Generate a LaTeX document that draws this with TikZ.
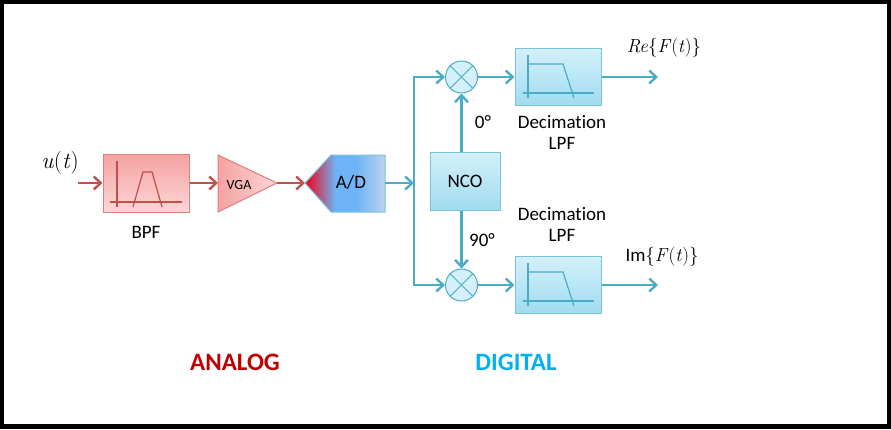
\documentclass[tikz,border=0pt]{standalone}
\usepackage{fontspec}
\setmainfont{Carlito}[Ligatures=NoCommon]
\newfontfamily\lmfont{Latin Modern Roman}
\usetikzlibrary{arrows.meta}
\definecolor{arrowred}{HTML}{C0504D}
\definecolor{arrowblue}{HTML}{4BACC6}
\definecolor{analogred}{HTML}{C00000}
\definecolor{digitalblue}{HTML}{00B0F0}
\definecolor{pinktop}{HTML}{F6A2A2}
\definecolor{pinkbot}{HTML}{FDD6D6}
\definecolor{pinkedge}{HTML}{D9807E}
\definecolor{cyantop}{HTML}{D4F0FA}
\definecolor{cyanbot}{HTML}{A0DCF0}
\definecolor{boxedge}{HTML}{7CC3D8}
\definecolor{adred}{HTML}{E8102A}
\definecolor{adblue}{HTML}{6CB4F6}
\definecolor{adpale}{HTML}{BCD3EC}
\pgfdeclarehorizontalshading{adshade}{100bp}{color(0bp)=(adred); color(27bp)=(adred); color(44bp)=(adblue); color(57bp)=(adblue); color(75bp)=(adpale); color(100bp)=(adpale)}
\begin{document}
\begin{tikzpicture}[x=1pt,y=-1pt,
	redarrow/.style={draw=arrowred, line width=2.4pt, -{Straight Barb[length=7pt,width=13pt]}},
	bluearrow/.style={draw=arrowblue, line width=2.4pt, -{Straight Barb[length=7pt,width=13pt]}},
	redbox/.style={draw=pinkedge, line width=1pt, top color=pinktop, bottom color=pinkbot, minimum width=86pt, minimum height=58pt},
	bluebox/.style={draw=boxedge, line width=1pt, top color=cyantop, bottom color=cyanbot, minimum width=86pt, minimum height=57pt},
	mixer/.style={circle, draw=arrowblue, line width=1pt, fill=cyantop, minimum size=32pt, inner sep=0pt},
	lbl/.style={font=\fontsize{19}{21}\selectfont}]
	\useasboundingbox (0,0) rectangle (891,429);
	\draw[line width=4.5pt] (2,2) rectangle (889,426.5);
	% analog part
	\node[font=\fontsize{23}{25}\selectfont] (u) at (60,163) {\lmfont\textit{u}(\textit{t})};
	\coordinate (in) at (78,183);
	\node[redbox] (bpf) at (146,183) {};
	\draw[arrowred, line width=1.2pt] ([shift={(-29,-22)}]bpf.center) -- ([shift={(-29,24)}]bpf.center);
	\draw[arrowred, line width=1.2pt] ([shift={(-36,19)}]bpf.center) -- ([shift={(36,19)}]bpf.center);
	\draw[arrowred, line width=1.2pt] ([shift={(-13,24)}]bpf.center) -- ([shift={(-3,-11)}]bpf.center) -- ([shift={(6,-11)}]bpf.center) -- ([shift={(16,24)}]bpf.center);
	\node[lbl] (bpflabel) at (146,232) {BPF};
	\coordinate (vgain) at (218,183);
	\coordinate (vgaout) at (277,183);
	\draw[draw=pinkedge, line width=1pt, left color=pinktop, right color=pinkbot] (218,155) -- (vgaout) -- (218,212) -- cycle;
	\node[font=\fontsize{14}{16}\selectfont] (vga) at (239,185) {VGA};
	\coordinate (adcin) at (305,183);
	\coordinate (adcout) at (385,183);
	\draw[draw=boxedge, line width=1pt, shading=adshade] (adcin) -- (331,155) -- (385,155) -- (385,212) -- (331,212) -- cycle;
	\node[lbl] (adc) at (351,182) {A/D};
	\draw[redarrow] (in) -- (bpf);
	\draw[redarrow] (bpf) -- (vgain);
	\draw[redarrow] (vgaout) -- (adcin);
	% digital part
	\coordinate (split) at (414,183);
	\node[mixer] (mixT) at (461.5,77) {};
	\node[mixer] (mixB) at (461.5,285) {};
	\foreach \m in {mixT,mixB} {
		\draw[arrowblue, line width=1pt] (\m.45) -- (\m.225);
		\draw[arrowblue, line width=1pt] (\m.135) -- (\m.315);
	}
	\node[bluebox, minimum width=70pt, minimum height=58pt, lbl] (nco) at (465,181) {NCO};
	\node[bluebox] (lpfT) at (558,77) {};
	\node[bluebox] (lpfB) at (558,285) {};
	\foreach \b in {lpfT,lpfB} {
		\draw[arrowblue, line width=1.2pt] ([shift={(-30,-22)}]\b.center) -- ([shift={(-30,21)}]\b.center);
		\draw[arrowblue, line width=1.2pt] ([shift={(-35,16)}]\b.center) -- ([shift={(36,16)}]\b.center);
		\draw[arrowblue, line width=1.2pt] ([shift={(-30,-13)}]\b.center) -- ([shift={(5,-13)}]\b.center) -- ([shift={(16,21)}]\b.center);
	}
	\coordinate (outT) at (658,77);
	\coordinate (outB) at (658,285);
	\draw[bluearrow] (adcout) -- (split);
	\draw[bluearrow, line join=miter] (split) |- (mixT);
	\draw[bluearrow, line join=miter] (split) |- (mixB);
	\draw[bluearrow] (nco.north -| mixT) -- (mixT);
	\draw[bluearrow] (nco.south -| mixT) -- (mixB);
	\draw[bluearrow] (mixT) -- (lpfT);
	\draw[bluearrow] (mixB) -- (lpfB);
	\draw[bluearrow] (lpfT) -- (outT);
	\draw[bluearrow] (lpfB) -- (outB);
	\node[lbl] (deg0) at (483,122) {0°};
	\node[lbl] (deg90) at (482,240) {90°};
	\node[lbl, align=center] (decT) at (562,132.5) {Decimation\\LPF};
	\node[lbl, align=center] (decB) at (562,224) {Decimation\\LPF};
	\node[lbl] (re) at (664,48) {\lmfont\textit{Re}\{\textit{F}(\textit{t})\}};
	\node[lbl] (im) at (662,257) {Im{\lmfont\{\textit{F}(\textit{t})\}}};
	% section titles
	\node[font=\fontsize{25}{28}\selectfont\bfseries, text=analogred] (analog) at (235,362) {ANALOG};
	\node[font=\fontsize{25}{28}\selectfont\bfseries, text=digitalblue] (digital) at (516,362) {DIGITAL};
\end{tikzpicture}
\end{document}
